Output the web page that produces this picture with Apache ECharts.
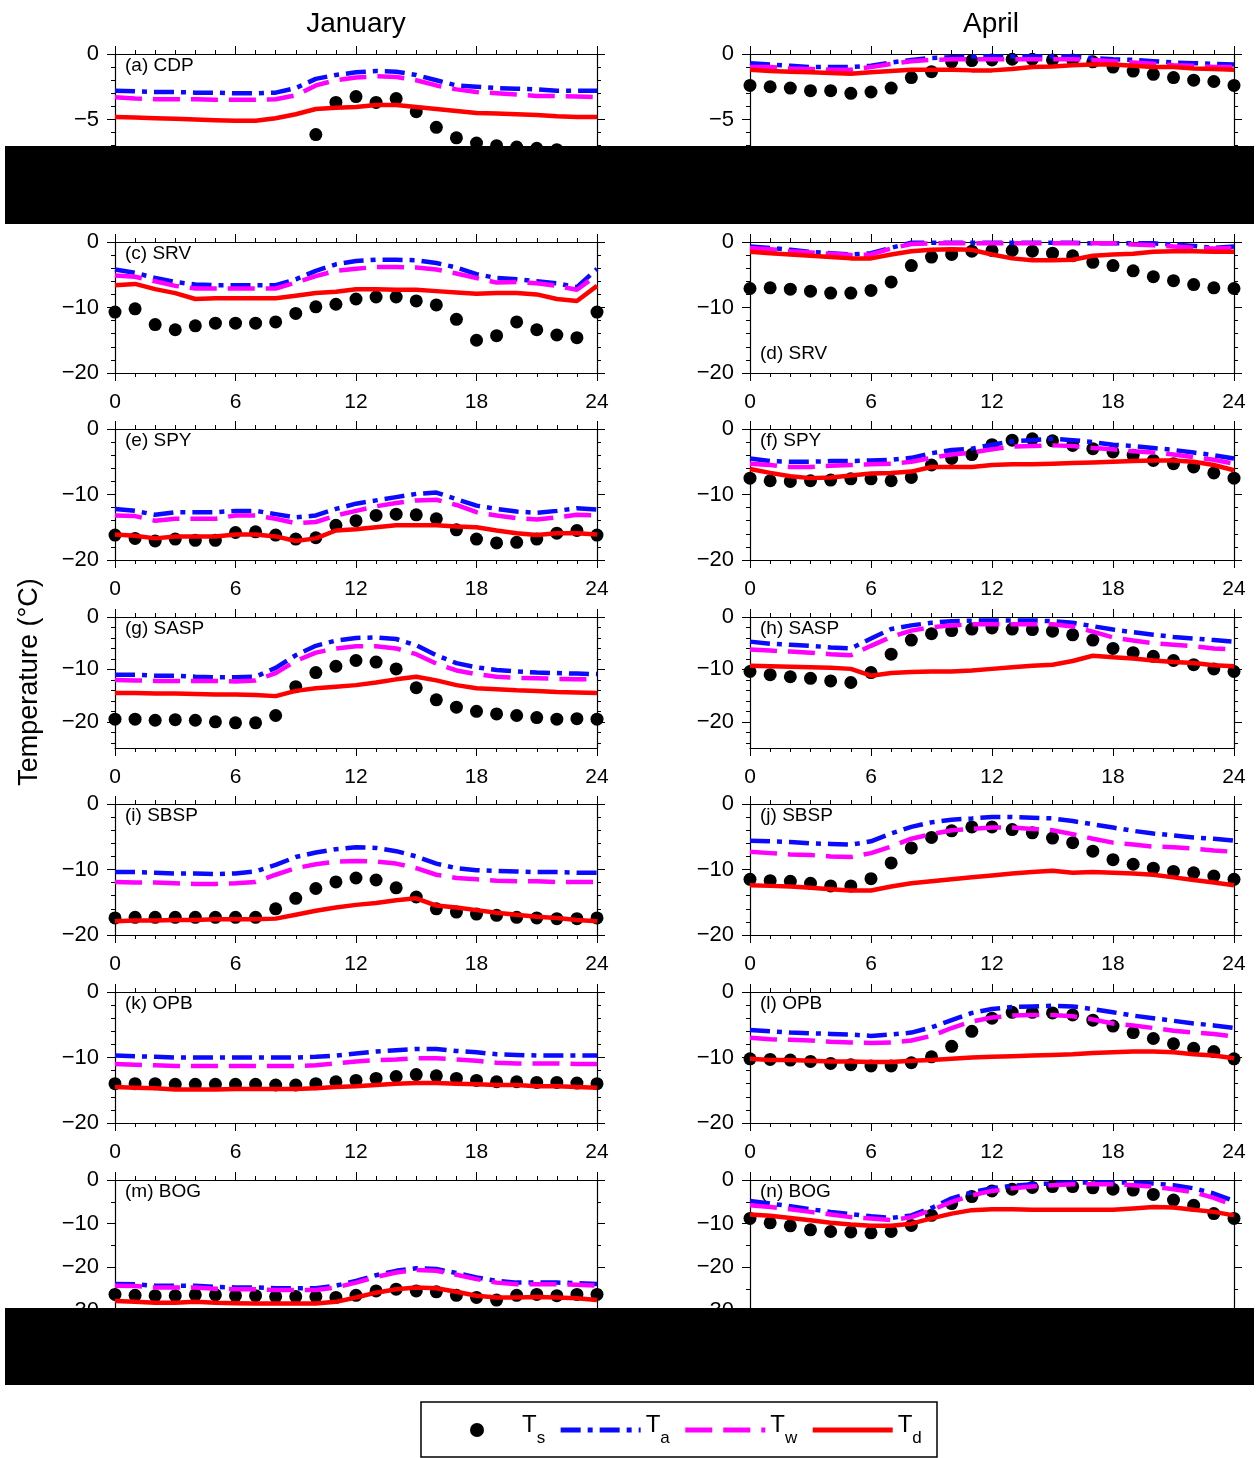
<!DOCTYPE html>
<html>
<head>
<meta charset="utf-8">
<script src="https://cdn.jsdelivr.net/npm/echarts@6/dist/echarts.min.js"></script>
<style>
  html, body { margin: 0; padding: 0; background: #fff; }
  #chart { width: 1259px; height: 1458px; }
</style>
</head>
<body>
<div id="chart"></div>
<script>
var hours = [0,1,2,3,4,5,6,7,8,9,10,11,12,13,14,15,16,17,18,19,20,21,22,23,24];

// (a) CDP January
var cdpJanTs = [-7.7,-7.8,-7.9,-8.0,-8.0,-8.1,-8.1,-8.2,-8.0,-7.8,-6.15,-3.7,-3.25,-3.7,-3.4,-4.4,-5.6,-6.4,-6.8,-7.0,-7.1,-7.2,-7.3,-7.55,-7.7];
var cdpJanTa = [-2.8,-2.85,-2.9,-2.9,-2.95,-2.95,-3.0,-3.0,-2.95,-2.6,-1.9,-1.6,-1.4,-1.3,-1.35,-1.6,-2.0,-2.4,-2.5,-2.6,-2.65,-2.7,-2.8,-2.8,-2.8];
var cdpJanTw = [-3.3,-3.4,-3.45,-3.45,-3.45,-3.5,-3.5,-3.5,-3.45,-3.15,-2.4,-2.0,-1.8,-1.7,-1.75,-2.0,-2.4,-2.7,-2.9,-3.0,-3.1,-3.2,-3.2,-3.25,-3.3];
var cdpJanTd = [-4.8,-4.85,-4.9,-4.95,-5.0,-5.05,-5.1,-5.1,-4.9,-4.6,-4.2,-4.1,-4.05,-3.9,-3.9,-4.05,-4.2,-4.35,-4.5,-4.55,-4.6,-4.65,-4.75,-4.8,-4.8];
// (b) CDP April
var cdpAprTs = [-2.4,-2.5,-2.6,-2.8,-2.8,-3.0,-2.9,-2.6,-1.8,-1.35,-0.6,-0.5,-0.45,-0.4,-0.4,-0.45,-0.45,-0.6,-1.0,-1.3,-1.55,-1.8,-2.0,-2.1,-2.4];
var cdpAprTa = [-0.7,-0.8,-0.9,-1.0,-1.0,-1.0,-0.9,-0.65,-0.45,-0.3,-0.25,-0.2,-0.2,-0.2,-0.2,-0.2,-0.2,-0.3,-0.4,-0.45,-0.55,-0.65,-0.7,-0.75,-0.8];
var cdpAprTw = [-1.0,-1.0,-1.1,-1.15,-1.2,-1.2,-1.0,-0.75,-0.55,-0.45,-0.4,-0.4,-0.4,-0.4,-0.4,-0.4,-0.4,-0.45,-0.55,-0.65,-0.75,-0.85,-0.9,-1.0,-1.0];
var cdpAprTd = [-1.2,-1.3,-1.35,-1.4,-1.45,-1.5,-1.4,-1.3,-1.2,-1.2,-1.2,-1.25,-1.25,-1.15,-1.0,-0.95,-0.85,-0.8,-0.8,-0.9,-1.0,-1.0,-1.1,-1.15,-1.2];
// (c) SRV January
var srvJanTs = [-10.7,-10.2,-12.6,-13.4,-12.8,-12.4,-12.4,-12.4,-12.2,-10.9,-9.9,-9.5,-8.7,-8.4,-8.4,-9.0,-9.6,-11.8,-15.0,-14.3,-12.2,-13.4,-14.2,-14.6,-10.7];
var srvJanTa = [-4.2,-4.7,-5.5,-6.1,-6.5,-6.6,-6.6,-6.6,-6.6,-5.7,-4.4,-3.4,-2.9,-2.7,-2.7,-2.8,-3.2,-3.9,-4.9,-5.5,-5.7,-6.0,-6.3,-6.9,-4.1];
var srvJanTw = [-5.1,-5.3,-6.0,-6.7,-7.1,-7.1,-7.1,-7.1,-7.1,-6.2,-5.2,-4.4,-4.1,-3.8,-3.8,-3.9,-4.2,-4.8,-5.5,-6.2,-6.1,-6.3,-6.7,-7.3,-5.0];
var srvJanTd = [-6.6,-6.4,-7.2,-7.8,-8.7,-8.6,-8.6,-8.6,-8.6,-8.2,-7.8,-7.6,-7.2,-7.2,-7.3,-7.3,-7.5,-7.7,-7.9,-7.8,-7.8,-8.0,-8.7,-9.0,-6.7];
// (d) SRV April
var srvAprTs = [-7.1,-7.0,-7.2,-7.5,-7.8,-7.8,-7.4,-6.1,-3.6,-2.3,-1.9,-1.4,-1.3,-1.3,-1.4,-1.7,-2.1,-3.1,-3.6,-4.4,-5.3,-5.9,-6.5,-7.0,-7.1];
var srvAprTa = [-0.7,-0.9,-1.2,-1.5,-1.7,-1.9,-1.7,-0.9,-0.1,-0.1,-0.1,-0.1,-0.1,-0.1,-0.1,-0.1,-0.1,-0.2,-0.2,-0.2,-0.2,-0.4,-0.6,-0.9,-0.7];
var srvAprTw = [-0.9,-1.1,-1.4,-1.6,-1.8,-2.0,-1.9,-1.0,-0.3,-0.2,-0.2,-0.2,-0.2,-0.2,-0.2,-0.2,-0.2,-0.2,-0.2,-0.4,-0.5,-0.7,-0.9,-1.0,-0.9];
var srvAprTd = [-1.5,-1.7,-1.9,-2.1,-2.3,-2.5,-2.5,-1.9,-1.4,-1.2,-1.1,-1.2,-1.9,-2.5,-2.8,-2.8,-2.7,-2.1,-1.9,-1.8,-1.5,-1.4,-1.4,-1.5,-1.5];
// (e) SPY January
var spyJanTs = [-16.2,-16.7,-17.1,-16.8,-17.0,-17.0,-15.8,-15.7,-16.2,-16.8,-16.6,-14.7,-14.0,-13.2,-13.0,-13.1,-13.7,-15.4,-16.8,-17.4,-17.3,-16.8,-15.9,-15.5,-16.2];
var spyJanTa = [-12.2,-12.5,-13.1,-12.7,-12.7,-12.7,-12.5,-12.5,-13.0,-13.5,-13.2,-12.2,-11.4,-10.9,-10.4,-9.9,-9.7,-10.7,-11.7,-12.2,-12.6,-12.8,-12.5,-12.1,-12.3];
var spyJanTw = [-13.2,-13.3,-14.0,-13.7,-13.7,-13.7,-13.2,-13.2,-13.7,-14.4,-14.2,-13.2,-12.5,-11.8,-11.3,-10.9,-10.8,-11.6,-12.7,-13.2,-13.6,-13.8,-13.5,-13.1,-13.2];
var spyJanTd = [-16.1,-16.3,-16.7,-16.4,-16.4,-16.4,-16.1,-16.1,-16.4,-17.1,-16.7,-15.5,-15.3,-15.0,-14.7,-14.7,-14.7,-14.9,-15.0,-15.5,-15.9,-16.2,-15.9,-15.9,-16.1];
// (f) SPY April
var spyAprTs = [-7.5,-7.9,-8.0,-7.9,-7.8,-7.6,-7.6,-7.9,-7.4,-5.5,-4.5,-3.9,-2.4,-1.7,-1.5,-1.8,-2.5,-3.0,-3.5,-4.0,-4.8,-5.3,-5.8,-6.7,-7.5];
var spyAprTa = [-4.5,-4.9,-5.0,-5.0,-4.9,-4.9,-4.8,-4.7,-4.4,-3.7,-3.2,-3.0,-2.4,-1.9,-1.7,-1.5,-1.7,-2.0,-2.4,-2.6,-2.9,-3.2,-3.6,-4.0,-4.5];
var spyAprTw = [-5.3,-5.5,-5.8,-5.8,-5.6,-5.5,-5.4,-5.3,-5.0,-4.4,-3.9,-3.6,-3.1,-2.7,-2.6,-2.5,-2.6,-2.9,-3.1,-3.4,-3.6,-3.9,-4.3,-4.7,-5.3];
var spyAprTd = [-6.1,-6.7,-7.2,-7.5,-7.4,-7.1,-6.8,-6.7,-6.5,-5.8,-5.8,-5.8,-5.5,-5.4,-5.4,-5.3,-5.2,-5.1,-5.0,-4.9,-4.8,-4.8,-5.0,-5.5,-6.3];
// (g) SASP January
var saspJanTs = [-19.5,-19.5,-19.7,-19.6,-19.7,-20.0,-20.2,-20.2,-18.8,-13.3,-10.6,-9.4,-8.3,-8.6,-9.9,-13.5,-15.8,-17.2,-18.0,-18.5,-18.8,-19.2,-19.5,-19.4,-19.5];
var saspJanTa = [-11.0,-11.0,-11.2,-11.2,-11.4,-11.5,-11.5,-11.4,-9.7,-7.3,-5.5,-4.5,-4.0,-3.9,-4.2,-5.4,-7.3,-8.8,-9.6,-10.1,-10.4,-10.6,-10.7,-10.8,-10.9];
var saspJanTw = [-12.0,-12.1,-12.2,-12.2,-12.2,-12.2,-12.3,-12.1,-10.7,-8.4,-6.8,-6.0,-5.6,-5.6,-6.0,-7.1,-8.9,-10.2,-10.9,-11.4,-11.6,-11.7,-11.8,-11.9,-11.9];
var saspJanTd = [-14.5,-14.5,-14.6,-14.6,-14.7,-14.8,-14.8,-14.9,-15.1,-14.1,-13.6,-13.3,-13.0,-12.5,-11.9,-11.4,-12.1,-13.0,-13.6,-13.8,-14.0,-14.1,-14.3,-14.4,-14.5];
// (h) SASP April
var saspAprTs = [-10.4,-11.0,-11.4,-11.7,-12.2,-12.5,-10.6,-7.1,-4.4,-3.2,-2.6,-2.3,-2.1,-2.3,-2.4,-2.7,-3.4,-4.4,-6.0,-6.8,-7.5,-8.3,-9.1,-9.9,-10.4];
var saspAprTa = [-4.7,-5.1,-5.3,-5.5,-5.8,-6.0,-4.1,-2.3,-1.6,-1.1,-0.8,-0.7,-0.65,-0.65,-0.65,-0.8,-1.1,-1.75,-2.4,-2.9,-3.4,-3.8,-4.1,-4.4,-4.7];
var saspAprTw = [-6.2,-6.4,-6.6,-6.8,-7.1,-7.3,-5.5,-3.8,-2.6,-1.95,-1.6,-1.4,-1.4,-1.4,-1.4,-1.4,-1.8,-2.8,-3.9,-4.5,-5.0,-5.3,-5.6,-6.0,-6.2];
var saspAprTd = [-9.3,-9.4,-9.5,-9.6,-9.7,-9.9,-11.2,-10.7,-10.5,-10.4,-10.4,-10.2,-9.9,-9.6,-9.3,-9.1,-8.4,-7.4,-7.7,-7.9,-8.3,-8.6,-8.8,-9.2,-9.4];
// (i) SBSP January
var sbspJanTs = [-17.4,-17.3,-17.3,-17.3,-17.3,-17.3,-17.3,-17.3,-16.0,-14.4,-12.9,-11.9,-11.3,-11.6,-12.8,-14.2,-16.0,-16.5,-16.8,-17.0,-17.3,-17.4,-17.5,-17.5,-17.4];
var sbspJanTa = [-10.4,-10.4,-10.5,-10.6,-10.6,-10.7,-10.6,-10.3,-9.3,-8.1,-7.4,-6.9,-6.6,-6.7,-7.2,-8.0,-9.1,-9.8,-10.1,-10.2,-10.3,-10.4,-10.4,-10.5,-10.5];
var sbspJanTw = [-11.9,-12.0,-12.0,-12.1,-12.2,-12.2,-12.1,-11.9,-10.8,-9.8,-9.2,-8.8,-8.7,-8.8,-9.1,-9.8,-10.8,-11.3,-11.5,-11.7,-11.8,-11.8,-11.9,-11.9,-11.9];
var sbspJanTd = [-17.9,-17.8,-17.8,-17.7,-17.7,-17.6,-17.6,-17.6,-17.5,-16.9,-16.3,-15.8,-15.4,-15.1,-14.7,-14.4,-15.5,-15.8,-16.2,-16.6,-16.9,-17.2,-17.4,-17.7,-17.9];
// (j) SBSP April
var sbspAprTs = [-11.5,-11.7,-11.8,-12.1,-12.5,-12.5,-11.4,-9.0,-6.7,-5.1,-4.1,-3.5,-3.5,-3.9,-4.4,-5.2,-5.9,-7.2,-8.5,-9.2,-9.8,-10.3,-10.5,-11.0,-11.5];
var sbspAprTa = [-5.6,-5.7,-5.8,-6.0,-6.1,-6.2,-5.7,-4.5,-3.5,-2.8,-2.4,-2.2,-2.0,-2.0,-2.1,-2.2,-2.6,-3.1,-3.6,-4.1,-4.5,-4.8,-5.1,-5.3,-5.6];
var sbspAprTw = [-7.3,-7.5,-7.7,-7.8,-8.0,-8.1,-7.5,-6.5,-5.3,-4.6,-4.0,-3.8,-3.6,-3.6,-3.8,-4.0,-4.6,-5.3,-5.9,-6.2,-6.5,-6.6,-6.8,-7.1,-7.3];
var sbspAprTd = [-12.4,-12.5,-12.6,-12.8,-13.0,-13.2,-13.2,-12.6,-12.1,-11.8,-11.5,-11.2,-10.9,-10.6,-10.4,-10.2,-10.5,-10.4,-10.5,-10.6,-10.8,-11.2,-11.6,-12.0,-12.4];
// (k) OPB January
var opbJanTs = [-14.0,-14.0,-14.0,-14.1,-14.1,-14.1,-14.1,-14.1,-14.2,-14.2,-14.0,-13.7,-13.5,-13.2,-12.9,-12.6,-12.8,-13.2,-13.5,-13.7,-13.7,-13.8,-13.8,-13.9,-14.0];
var opbJanTa = [-9.7,-9.8,-9.9,-10.0,-10.0,-10.0,-10.0,-10.0,-10.0,-10.0,-9.9,-9.7,-9.4,-9.1,-8.9,-8.7,-8.7,-9.0,-9.2,-9.5,-9.6,-9.7,-9.7,-9.7,-9.7];
var opbJanTw = [-11.0,-11.1,-11.2,-11.3,-11.3,-11.3,-11.3,-11.3,-11.3,-11.3,-11.2,-10.9,-10.6,-10.4,-10.3,-10.1,-10.1,-10.3,-10.5,-10.8,-10.9,-10.9,-10.9,-11.0,-11.0];
var opbJanTd = [-14.5,-14.6,-14.7,-14.9,-14.9,-14.9,-14.8,-14.8,-14.8,-14.8,-14.7,-14.5,-14.4,-14.2,-14.0,-13.9,-13.9,-14.0,-14.1,-14.2,-14.2,-14.4,-14.4,-14.5,-14.6];
// (l) OPB April
var opbAprTs = [-10.2,-10.3,-10.4,-10.6,-10.9,-11.1,-11.3,-11.3,-10.8,-9.9,-8.3,-6.0,-4.0,-3.1,-3.1,-3.2,-3.5,-4.3,-5.2,-6.2,-7.1,-7.9,-8.6,-9.1,-10.2];
var opbAprTa = [-5.8,-6.0,-6.2,-6.3,-6.4,-6.5,-6.7,-6.5,-6.2,-5.4,-4.3,-3.2,-2.6,-2.3,-2.2,-2.1,-2.2,-2.6,-3.1,-3.6,-4.0,-4.4,-4.8,-5.1,-5.5];
var opbAprTw = [-7.0,-7.2,-7.3,-7.4,-7.6,-7.7,-7.8,-7.7,-7.4,-6.7,-5.5,-4.5,-3.9,-3.6,-3.5,-3.5,-3.7,-4.2,-4.8,-5.1,-5.5,-5.9,-6.2,-6.4,-6.8];
var opbAprTd = [-10.2,-10.4,-10.4,-10.5,-10.6,-10.6,-10.7,-10.7,-10.5,-10.4,-10.2,-10.0,-9.9,-9.8,-9.7,-9.6,-9.5,-9.3,-9.2,-9.1,-9.1,-9.2,-9.5,-9.7,-10.1];
// (m) BOG January
var bogJanTs = [-26.2,-26.4,-26.5,-26.5,-26.3,-26.3,-26.5,-26.5,-26.7,-26.7,-26.7,-26.9,-26.4,-25.4,-25.0,-25.4,-25.6,-26.4,-26.9,-27.5,-26.4,-26.2,-26.5,-26.2,-26.2];
var bogJanTa = [-23.8,-23.9,-24.2,-24.2,-24.2,-24.5,-24.6,-24.6,-24.8,-24.8,-24.8,-24.2,-23.1,-21.8,-20.8,-20.2,-20.4,-21.3,-22.3,-23.1,-23.5,-23.5,-23.5,-23.6,-23.8];
var bogJanTw = [-24.2,-24.3,-24.6,-24.6,-24.6,-24.9,-25.0,-25.0,-25.2,-25.2,-25.2,-24.6,-23.5,-22.2,-21.2,-20.6,-20.8,-21.7,-22.7,-23.5,-23.9,-23.9,-23.9,-24.0,-24.2];
var bogJanTd = [-27.7,-27.9,-28.1,-28.1,-27.9,-28.1,-28.2,-28.3,-28.3,-28.3,-28.3,-27.9,-26.9,-25.8,-25.0,-24.6,-24.8,-25.6,-26.5,-26.9,-26.9,-26.8,-26.9,-27.1,-27.5];
// (n) BOG April
var bogAprTs = [-8.8,-9.8,-10.5,-11.4,-11.8,-11.9,-12.1,-11.8,-10.4,-8.1,-5.4,-3.8,-2.5,-2.1,-1.7,-1.5,-1.5,-1.8,-2.1,-2.3,-3.3,-4.6,-5.8,-7.7,-8.8];
var bogAprTa = [-4.8,-5.4,-6.0,-6.7,-7.3,-7.8,-8.3,-8.7,-8.1,-6.4,-4.2,-2.8,-1.9,-1.3,-1.0,-0.8,-0.6,-0.6,-0.6,-0.6,-0.8,-1.2,-1.9,-3.1,-4.8];
var bogAprTw = [-5.8,-6.2,-6.7,-7.3,-7.9,-8.5,-8.8,-9.2,-8.5,-6.9,-5.0,-3.5,-2.5,-1.9,-1.5,-1.2,-1.0,-1.0,-1.0,-1.2,-1.5,-2.1,-2.8,-4.1,-5.8];
var bogAprTd = [-7.9,-8.2,-8.7,-9.2,-9.8,-10.2,-10.5,-10.5,-10.0,-8.8,-7.7,-6.9,-6.7,-6.7,-6.8,-6.8,-6.8,-6.8,-6.8,-6.5,-6.2,-6.3,-6.8,-7.3,-8.1];

var FONT = "'Liberation Sans', Arial, sans-serif";

// y ranges: [min, major step, minor step]
var panels = [
  { tag: "(a) CDP",  col: 0, row: 0, y: [-10, 5, 1], s: [cdpJanTs, cdpJanTa, cdpJanTw, cdpJanTd] },
  { tag: "",         col: 1, row: 0, y: [-10, 5, 1], s: [cdpAprTs, cdpAprTa, cdpAprTw, cdpAprTd] },
  { tag: "(c) SRV",  col: 0, row: 1, y: [-20, 10, 2], s: [srvJanTs, srvJanTa, srvJanTw, srvJanTd] },
  { tag: "(d) SRV",  col: 1, row: 1, y: [-20, 10, 2], s: [srvAprTs, srvAprTa, srvAprTw, srvAprTd], bottomTag: true },
  { tag: "(e) SPY",  col: 0, row: 2, y: [-20, 10, 2], s: [spyJanTs, spyJanTa, spyJanTw, spyJanTd] },
  { tag: "(f) SPY",  col: 1, row: 2, y: [-20, 10, 2], s: [spyAprTs, spyAprTa, spyAprTw, spyAprTd] },
  { tag: "(g) SASP", col: 0, row: 3, y: [-25, 10, 2], s: [saspJanTs, saspJanTa, saspJanTw, saspJanTd] },
  { tag: "(h) SASP", col: 1, row: 3, y: [-25, 10, 2], s: [saspAprTs, saspAprTa, saspAprTw, saspAprTd] },
  { tag: "(i) SBSP", col: 0, row: 4, y: [-20, 10, 2], s: [sbspJanTs, sbspJanTa, sbspJanTw, sbspJanTd] },
  { tag: "(j) SBSP", col: 1, row: 4, y: [-20, 10, 2], s: [sbspAprTs, sbspAprTa, sbspAprTw, sbspAprTd] },
  { tag: "(k) OPB",  col: 0, row: 5, y: [-20, 10, 2], s: [opbJanTs, opbJanTa, opbJanTw, opbJanTd] },
  { tag: "(l) OPB",  col: 1, row: 5, y: [-20, 10, 2], s: [opbAprTs, opbAprTa, opbAprTw, opbAprTd] },
  { tag: "(m) BOG",  col: 0, row: 6, y: [-30, 10, 5], s: [bogJanTs, bogJanTa, bogJanTw, bogJanTd] },
  { tag: "(n) BOG",  col: 1, row: 6, y: [-30, 10, 5], s: [bogAprTs, bogAprTa, bogAprTw, bogAprTd] }
];

var colLeft = [115, 750];
var colWidth = [482, 484];
var plotH = 131;
function rowTop(r) { return Math.round(54 + 187.6 * r); }

var grids = [], xAxes = [], yAxes = [], series = [], graphics = [];

function minusFmt(v) { return String(v).replace("-", "\u2212"); }

function xAxisOpt(i, pos) {
  return {
    gridIndex: i, type: "value", min: 0, max: 24, interval: 6, position: pos,
    axisLine: { onZero: false, lineStyle: { color: "#000", width: 1.2 } },
    axisTick: { length: 8, lineStyle: { color: "#000", width: 1 } },
    minorTick: { show: true, splitNumber: 6, length: 4, lineStyle: { color: "#000", width: 1 } },
    axisLabel: { show: pos === "bottom", fontSize: 21, color: "#000", margin: 19, fontFamily: FONT },
    splitLine: { show: false }, minorSplitLine: { show: false }
  };
}

function yAxisOpt(i, pos, min, ticks, len, showLine, showLabel) {
  return {
    gridIndex: i, type: "value", min: min, max: 0, position: pos,
    axisLine: { show: showLine, onZero: false, lineStyle: { color: "#000", width: 1.2 } },
    axisTick: { customValues: ticks, length: len, lineStyle: { color: "#000", width: 1 } },
    axisLabel: { show: showLabel, customValues: ticks, formatter: minusFmt, fontSize: 22, color: "#000", margin: 16, fontFamily: FONT },
    splitLine: { show: false }
  };
}

panels.forEach(function (p, i) {
  var left = colLeft[p.col], top = rowTop(p.row);
  grids.push({ left: left, top: top, width: colWidth[p.col], height: plotH, outerBoundsMode: "none" });

  xAxes.push(xAxisOpt(i, "bottom"));
  xAxes.push(xAxisOpt(i, "top"));

  var major = [], minor = [];
  for (var v = 0; v >= p.y[0]; v -= p.y[1]) major.push(v);
  for (var m = 0; m >= p.y[0]; m -= p.y[2]) { if (m % p.y[1] !== 0) minor.push(m); }
  yAxes.push(yAxisOpt(i, "left", p.y[0], major, 8, true, true));
  yAxes.push(yAxisOpt(i, "left", p.y[0], minor, 4, false, false));
  yAxes.push(yAxisOpt(i, "right", p.y[0], major, 8, true, false));
  yAxes.push(yAxisOpt(i, "right", p.y[0], minor, 4, false, false));

  function pairs(arr) { return hours.map(function (h, k) { return [h, arr[k]]; }); }
  var xi = 2 * i, yi = 4 * i;
  series.push({ name: "Ts", type: "scatter", xAxisIndex: xi, yAxisIndex: yi, data: pairs(p.s[0]),
    symbolSize: 13, itemStyle: { color: "#000", opacity: 1 }, clip: false, silent: true, z: 2 });
  series.push({ name: "Ta", type: "line", xAxisIndex: xi, yAxisIndex: yi, data: pairs(p.s[1]),
    symbol: "none", itemStyle: { color: "#0a0aff" },
    lineStyle: { color: "#0a0aff", width: 4.5, type: [20, 7, 5, 7] }, silent: true, z: 3 });
  series.push({ name: "Tw", type: "line", xAxisIndex: xi, yAxisIndex: yi, data: pairs(p.s[2]),
    symbol: "none", itemStyle: { color: "#ff00ff" },
    lineStyle: { color: "#ff00ff", width: 4.5, type: [27, 11] }, silent: true, z: 3 });
  series.push({ name: "Td", type: "line", xAxisIndex: xi, yAxisIndex: yi, data: pairs(p.s[3]),
    symbol: "none", itemStyle: { color: "#ff0000" },
    lineStyle: { color: "#ff0000", width: 4.5 }, silent: true, z: 4 });

  if (p.tag) {
    graphics.push({ type: "text", z: 50,
      style: { text: p.tag, x: left + 10, y: p.bottomTag ? top + plotH - 19 : top + 12,
        fontSize: 19, fontFamily: FONT, fill: "#000", textVerticalAlign: "middle", verticalAlign: "middle" } });
  }
});

// column titles and y title
graphics.push({ type: "text", style: { text: "January", x: 356, y: 24, fontSize: 28, fontFamily: FONT, fill: "#000",
  textAlign: "center", align: "center", textVerticalAlign: "middle", verticalAlign: "middle" } });
graphics.push({ type: "text", style: { text: "April", x: 991, y: 24, fontSize: 28, fontFamily: FONT, fill: "#000",
  textAlign: "center", align: "center", textVerticalAlign: "middle", verticalAlign: "middle" } });
graphics.push({ type: "text", x: 30, y: 682, rotation: Math.PI / 2,
  style: { text: "Temperature (\u00b0C)", x: 0, y: 0, fontSize: 27, fontFamily: FONT, fill: "#000",
    textAlign: "center", align: "center", textVerticalAlign: "middle", verticalAlign: "middle" } });

// legend frame
graphics.push({ type: "rect", z: 0, shape: { x: 421, y: 1402, width: 516, height: 55 },
  style: { fill: "#fff", stroke: "#000", lineWidth: 1.5 } });

// black masking bands as in the source image
graphics.push({ type: "rect", z: 200, shape: { x: 5, y: 146, width: 1249, height: 78 }, style: { fill: "#000" } });
graphics.push({ type: "rect", z: 200, shape: { x: 5, y: 1308, width: 1249, height: 77 }, style: { fill: "#000" } });

var subs = { Ts: "s", Ta: "a", Tw: "w", Td: "d" };

var option = {
  animation: false,
  backgroundColor: "#fff",
  grid: grids,
  xAxis: xAxes,
  yAxis: yAxes,
  series: series,
  legend: {
    data: [
      { name: "Ts" },
      { name: "Ta", itemStyle: { opacity: 0 } },
      { name: "Tw", itemStyle: { opacity: 0 } },
      { name: "Td", itemStyle: { opacity: 0 } }
    ],
    left: 470, top: 1413,
    itemWidth: 80, itemHeight: 14, itemGap: 13, padding: 0,
    selectedMode: false,
    lineStyle: { width: 5 },
    formatter: function (n) { return "{t|T}{s|" + subs[n] + "}"; },
    textStyle: {
      fontFamily: FONT, color: "#000",
      rich: {
        t: { fontSize: 24, fontFamily: FONT, color: "#000", padding: [0, 0, 10, 0], verticalAlign: "bottom" },
        s: { fontSize: 17, fontFamily: FONT, color: "#000", verticalAlign: "bottom" }
      }
    }
  },
  graphic: { elements: graphics }
};

var myChart = echarts.init(document.getElementById("chart"), null, { renderer: "canvas" });
myChart.setOption(option);
</script>
</body>
</html>
